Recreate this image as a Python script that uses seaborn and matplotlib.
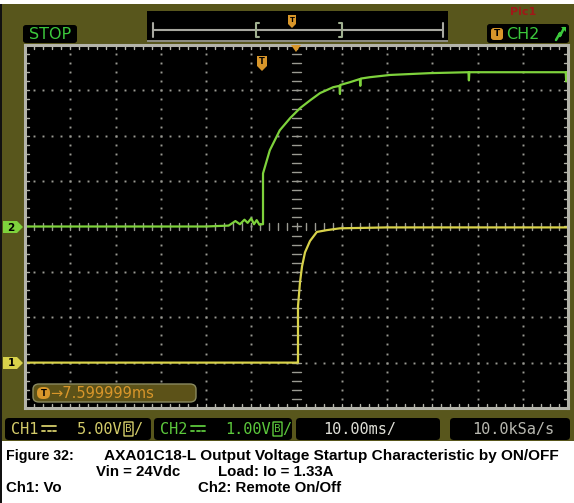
import numpy as np
import pandas as pd
import matplotlib
matplotlib.use("Agg")
import matplotlib.pyplot as plt
from matplotlib.patches import Rectangle, FancyBboxPatch, Polygon
import seaborn as sns

# ---------------- data ----------------
# CH2 (green), 1 V/div, ground at centre line
ch2_t = [-60, -45, -30, -20, -15, -13.5, -12.5, -11.5, -10.8, -10, -9.4, -8.8, -8.2, -7.6,
         -7.4, -7.4, -5.9, -3.7, -1.4, 0.8, 3.0, 5.2, 8.1, 9.5, 9.6, 9.7, 11.8, 14.0, 14.1, 14.2,
         16.2, 20.7, 29.5, 38.0, 38.1, 38.2, 45, 52, 59.5, 59.6, 59.7, 60]
ch2_v = [0.0, 0.0, 0.0, 0.0, 0.02, 0.12, 0.05, 0.15, 0.08, 0.18, 0.05, 0.14, 0.04, 0.05,
         0.05, 1.17, 1.68, 2.12, 2.39, 2.61, 2.78, 2.94, 3.07, 3.10, 2.92, 3.12, 3.18, 3.25, 3.10, 3.26,
         3.29, 3.34, 3.38, 3.40, 3.22, 3.40, 3.40, 3.40, 3.40, 3.20, 3.40, 3.40]
ch2_scale = 1.0     # V/div
ch2_offset = 0.0    # div

# CH1 (yellow), 5 V/div, ground 3 div below centre
ch1_t = [-60, -50, -40, -30, -20, -10, 0, 0.33, 0.33, 0.77, 1.22, 1.88, 2.98, 4.5, 6.7, 9.6, 20, 40, 60]
ch1_v = [0.0, 0.0, 0.0, 0.0, 0.0, 0.0, 0.0, 0.0, 6.2, 8.84, 10.6, 12.15, 13.4, 14.4, 14.6, 14.8, 14.9, 14.9, 14.9]
ch1_scale = 5.0
ch1_offset = -3.0

ch_names = ["CH1", "CH2"]
ch_volts = ["5.00V", "1.00V"]
timebase = "10.00ms/"
samplerate = "10.0kSa/s"
trigger_text = "\u21927.599999ms"
caption_title = "Figure 32:"
caption_main = "AXA01C18-L Output Voltage Startup Characteristic by ON/OFF"
caption_vin = "Vin = 24Vdc"
caption_load = "Load: Io = 1.33A"
caption_ch1 = "Ch1: Vo"
caption_ch2 = "Ch2: Remote On/Off"

# ---------------- styling ----------------
W, H = 574, 503
OLIVE = "#58561c"
GREEN = "#7ed23c"
YELLOW = "#d8d24a"
ORANGE = "#d8962a"
GRID = "#9a9a92"
FRAME = "#b4b4aa"
MONO = ["DejaVu Sans Mono", "DejaVu Sans"]

sns.set_theme(style="white")
plt.rcParams["font.family"] = ["DejaVu Sans", "DejaVu Sans Mono"]

fig = plt.figure(figsize=(W / 100, H / 100), dpi=100)
fig.patch.set_facecolor("white")


def fx(x):
    return x / W


def fy(y):
    return 1 - y / H


def frect(x0, y0, x1, y1, **kw):
    p = Rectangle((fx(x0), fy(y1)), fx(x1) - fx(x0), fy(y0) - fy(y1),
                  transform=fig.transFigure, **kw)
    fig.patches.append(p)
    return p


def fbox(x0, y0, x1, y1, r=3, **kw):
    p = FancyBboxPatch((fx(x0), fy(y1)), fx(x1) - fx(x0), fy(y0) - fy(y1),
                       boxstyle=f"round,pad=0,rounding_size={r / W}",
                       transform=fig.transFigure, **kw)
    fig.patches.append(p)
    return p


def fpoly(pts, **kw):
    p = Polygon([(fx(x), fy(y)) for x, y in pts], closed=True,
                transform=fig.transFigure, **kw)
    fig.patches.append(p)
    return p


def fline(xs, ys, **kw):
    ln = plt.Line2D([fx(x) for x in xs], [fy(y) for y in ys], transform=fig.transFigure, **kw)
    fig.lines.append(ln)
    return ln


def ftext(x, y, s, **kw):
    kw.setdefault("va", "center")
    return fig.text(fx(x), fy(y), s, **kw)


# olive scope background (below the axes)
frect(0, 4, W, 441, facecolor=OLIVE, edgecolor="none", zorder=-2)
frect(0, 4, 2, H, facecolor="#111111", edgecolor="none", zorder=-1)

# top-left STOP box
fbox(23, 25, 77, 43, r=3, facecolor="black", edgecolor="none", zorder=2)
ftext(50, 34.5, "STOP", ha="center", color="#3cc83c", fontsize=11.5, zorder=3)

# top-centre memory bar
frect(147, 11, 448, 41, facecolor="black", edgecolor="none", zorder=2)
frect(147, 40, 448, 42, facecolor="#8a8a80", edgecolor="none", zorder=3)
fline([153, 443], [30, 30], color="#a8a8a0", lw=1.5, zorder=3)
for xe in (153, 443):
    fline([xe, xe], [23, 37], color="#a8a8a0", lw=1.5, zorder=3)
for xe, d in ((256, 1), (342, -1)):
    fline([xe + 3 * d, xe, xe, xe + 3 * d], [23, 23, 37, 37], color="#a0b090", lw=1.5, zorder=3)
fpoly([(288, 15), (296, 15), (296, 24), (292, 28), (288, 24)], facecolor=ORANGE, edgecolor="none", zorder=4)
ftext(292, 20, "T", ha="center", color="black", fontsize=5, fontweight="bold", zorder=5)

# faint red label at top right
ftext(523, 12, "Pic1", ha="center", color="#a01818", fontsize=8, fontweight="bold", zorder=2)

# top-right trigger source box
fbox(487, 24, 569, 43, r=3, facecolor="black", edgecolor="none", zorder=2)
fbox(491, 28, 503, 40, r=3, facecolor=ORANGE, edgecolor="none", zorder=3)
ftext(497, 34, "T", ha="center", color="black", fontsize=6.5, fontweight="bold", zorder=4)
ftext(506, 34.5, "CH2", ha="left", color="#3cc83c", fontsize=11.5, zorder=3)
fline([556, 560, 560, 564], [40, 33, 36, 28], color="#3cc83c", lw=1.8, zorder=3)
fpoly([(561, 27), (566, 27), (566, 32)], facecolor="#3cc83c", edgecolor="none", zorder=3)

# ---------------- scope screen ----------------
L, T, R, B = 25, 45, 568, 408
ax = fig.add_axes([fx(L), fy(B), fx(R) - fx(L), fy(T) - fy(B)])
ax.set_zorder(0)
ax.set_facecolor("black")
for s in ax.spines.values():
    s.set_color(FRAME)
    s.set_linewidth(2.2)

# graticule dots
minor_x = np.arange(-60, 60.01, 2)
minor_y = np.arange(-4, 4.01, 0.2)
for gx in range(-50, 51, 10):
    if gx == 0:
        continue
    ax.plot(np.full_like(minor_y, gx), minor_y, ls="none", marker="s", ms=1.4, color=GRID, mew=0)
for gy in range(-3, 4):
    if gy == 0:
        continue
    ax.plot(minor_x, np.full_like(minor_x, gy), ls="none", marker="s", ms=1.4, color=GRID, mew=0)
# centre cross ticks
for xv in minor_x:
    ax.plot([xv, xv], [-0.08, 0.08], color=GRID, lw=1)
for yv in minor_y:
    ax.plot([-0.9, 0.9], [yv, yv], color=GRID, lw=1)
# frame ticks
for xv in minor_x:
    ax.plot([xv, xv], [4, 3.91], color=FRAME, lw=1)
    ax.plot([xv, xv], [-4, -3.91], color=FRAME, lw=1)
for yv in minor_y:
    ax.plot([-60, -59.1], [yv, yv], color=FRAME, lw=1)
    ax.plot([60, 59.1], [yv, yv], color=FRAME, lw=1)

# traces
df1 = pd.DataFrame({"t": ch1_t, "div": np.array(ch1_v) / ch1_scale + ch1_offset, "ch": "CH1"})
df2 = pd.DataFrame({"t": ch2_t, "div": np.array(ch2_v) / ch2_scale + ch2_offset, "ch": "CH2"})
df = pd.concat([df2, df1], ignore_index=True)
sns.lineplot(data=df, x="t", y="div", hue="ch", palette={"CH1": YELLOW, "CH2": GREEN},
             estimator=None, sort=False, legend=False, linewidth=1.6, ax=ax)
ax.set_xlabel("")
ax.set_ylabel("")
ax.set_xticks([])
ax.set_yticks([])
ax.set_xlim(-60, 60)
ax.set_ylim(-4, 4)

# trigger markers
fpoly([(291, 45), (301, 45), (296, 52)], facecolor=ORANGE, edgecolor="none", zorder=5)
fpoly([(257, 56), (267, 56), (267, 66), (262, 71), (257, 66)], facecolor=ORANGE, edgecolor="none", zorder=5)
ftext(262, 62, "T", ha="center", color="black", fontsize=6, fontweight="bold", zorder=6)

# channel ground markers
for yc, col, lab in ((227, GREEN, "2"), (363, YELLOW, "1")):
    fpoly([(3, yc - 6), (17, yc - 6), (23, yc), (17, yc + 6), (3, yc + 6)],
          facecolor=col, edgecolor="none", zorder=5)
    ftext(11, yc + 0.5, lab, ha="center", color="black", fontsize=7.5, fontweight="bold", zorder=6)

# trigger position box
fbox(33, 384, 196, 402, r=6, facecolor="#5c5218", edgecolor="#8a8a60", lw=1, zorder=5)
fbox(37, 387, 50, 399, r=6, facecolor=ORANGE, edgecolor="none", zorder=6)
ftext(43.5, 393, "T", ha="center", color="black", fontsize=6, fontweight="bold", zorder=7)
ftext(50, 393.5, trigger_text, ha="left", color=ORANGE, fontsize=10.5, zorder=6)

# ---------------- status bar ----------------
fbox(5, 418, 151, 440, r=4, facecolor="black", edgecolor="none", zorder=2)
fbox(154, 418, 292, 440, r=4, facecolor="black", edgecolor="none", zorder=2)
fbox(296, 418, 440, 440, r=4, facecolor="black", edgecolor="none", zorder=2)
fbox(450, 418, 570, 440, r=4, facecolor="black", edgecolor="none", zorder=2)
for x0, col, name, volts in ((11, "#d4cc6a", ch_names[0], ch_volts[0]),
                             (160, "#5cc83c", ch_names[1], ch_volts[1])):
    ftext(x0, 429.5, name, ha="left", color=col, fontsize=11, family=MONO, zorder=3)
    # DC coupling symbol (solid line over dashed line)
    fline([x0 + 31, x0 + 45], [426, 426], color=col, lw=1.3, zorder=3)
    for dx in (31, 36.5, 42):
        fline([x0 + dx, x0 + dx + 3], [430.5, 430.5], color=col, lw=1.3, zorder=3)
    ftext(x0 + 111, 429.5, volts, ha="right", color=col, fontsize=11, family=MONO, zorder=3)
    fbox(x0 + 113, 422, x0 + 122, 436, r=0.5, facecolor="none", edgecolor=col, lw=1, zorder=3)
    ftext(x0 + 117.5, 429.5, "B", ha="center", color=col, fontsize=7, zorder=4)
    ftext(x0 + 127, 429.5, "/", ha="center", color=col, fontsize=11, family=MONO, zorder=4)
ftext(360, 429.5, timebase, ha="center", color="#e0e0d8", fontsize=11, family=MONO, zorder=3)
ftext(513, 429.5, samplerate, ha="center", color="#b8b8b0", fontsize=11, family=MONO, zorder=3)

# ---------------- caption ----------------
cap = dict(color="black", fontweight="bold",
           family=["Liberation Sans Narrow", "Liberation Sans", "DejaVu Sans"], zorder=3)
ftext(6, 456, caption_title, ha="left", fontsize=10.2, **cap)
ftext(104, 456, caption_main, ha="left", fontsize=11.1, **cap)
ftext(96, 472, caption_vin, ha="left", fontsize=10.8, **cap)
ftext(218, 472, caption_load, ha="left", fontsize=10.8, **cap)
ftext(6, 488, caption_ch1, ha="left", fontsize=10.8, **cap)
ftext(198, 488, caption_ch2, ha="left", fontsize=10.8, **cap)

fig.savefig("out.png", dpi=100, facecolor="white")
